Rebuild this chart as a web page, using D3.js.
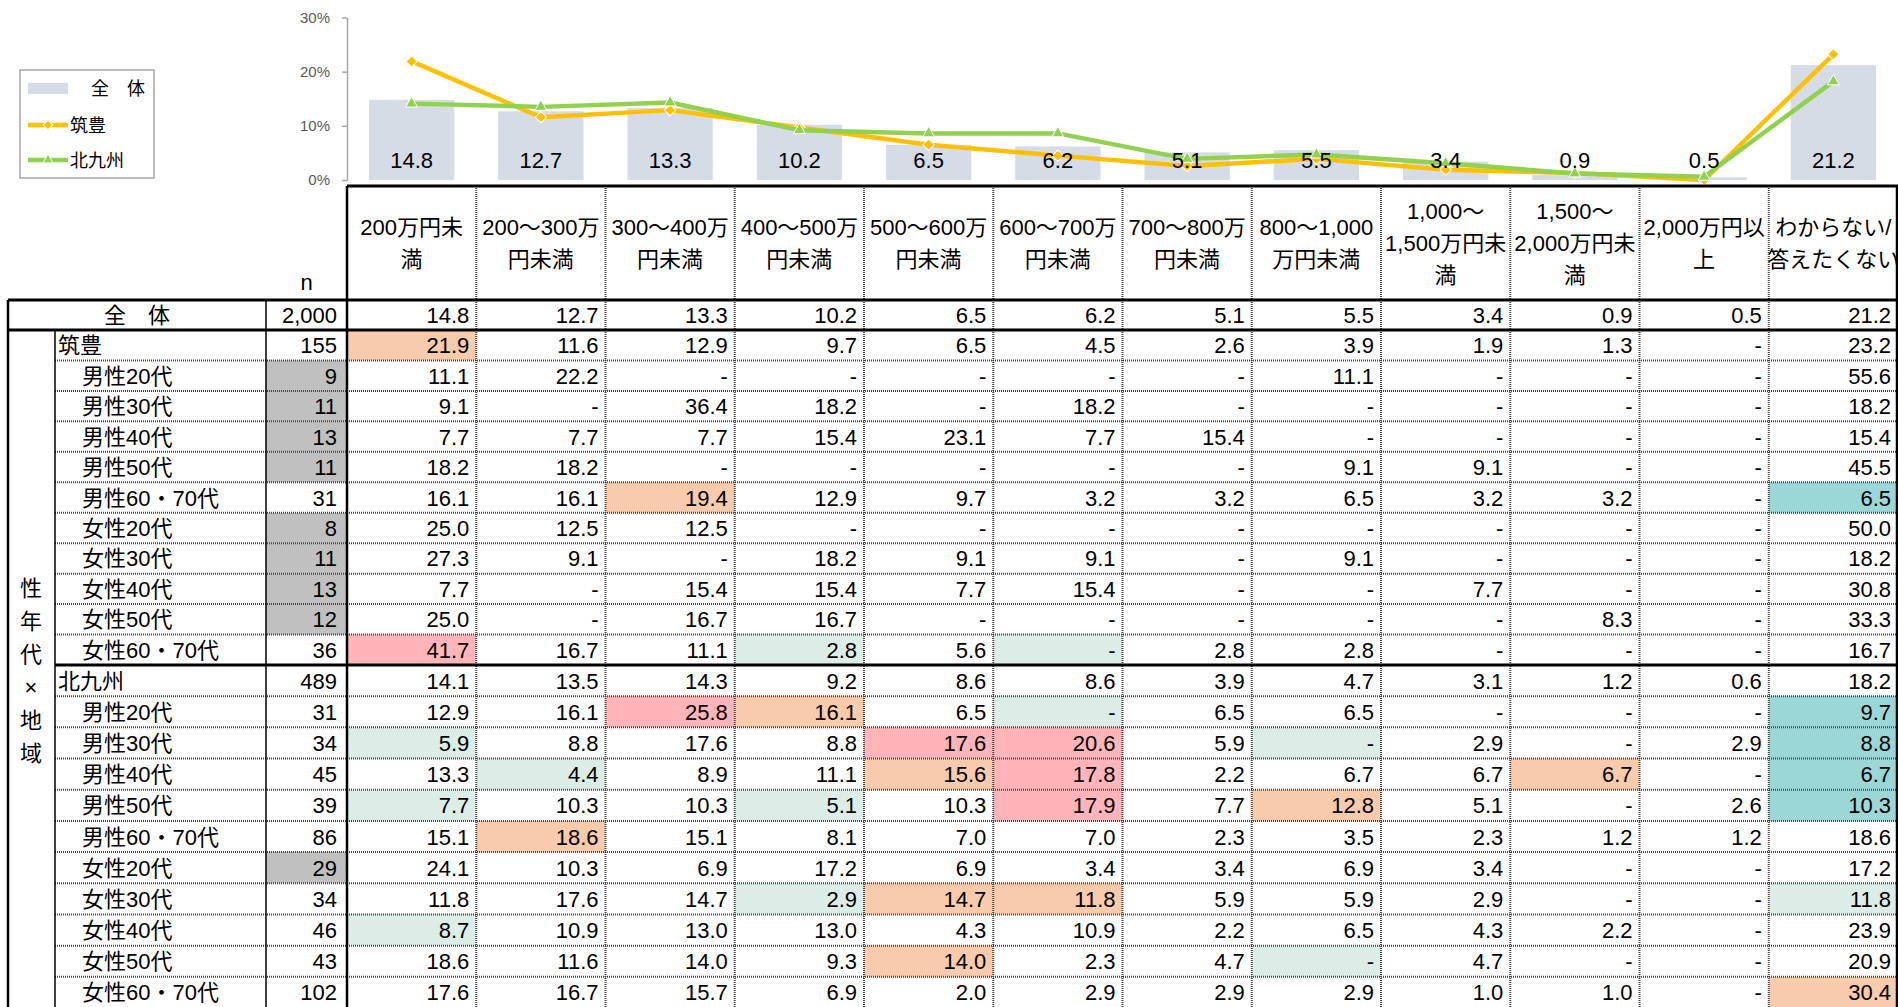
<!DOCTYPE html>
<html>
<head>
<meta charset="utf-8">
<script src="https://cdn.jsdelivr.net/npm/d3@7"></script>
<style>
  body { margin: 0; background: #fff; }
  svg text { font-family: "Liberation Sans", "Noto Sans CJK JP", sans-serif; }
</style>
</head>
<body>
<script>
// ---- data ----
var categories = ["200万円未満", "200～300万円未満", "300～400万円未満", "400～500万円未満",
  "500～600万円未満", "600～700万円未満", "700～800万円未満", "800～1,000万円未満",
  "1,000～1,500万円未満", "1,500～2,000万円未満", "2,000万円以上", "わからない/答えたくない"];
var headerLines = [["200万円未", "満"], ["200～300万", "円未満"], ["300～400万", "円未満"],
  ["400～500万", "円未満"], ["500～600万", "円未満"], ["600～700万", "円未満"],
  ["700～800万", "円未満"], ["800～1,000", "万円未満"], ["1,000～", "1,500万円未", "満"],
  ["1,500～", "2,000万円未", "満"], ["2,000万円以", "上"], ["わからない/", "答えたくない"]];

var totalN = 2000;
var totalValues = [14.8, 12.7, 13.3, 10.2, 6.5, 6.2, 5.1, 5.5, 3.4, 0.9, 0.5, 21.2];

var groupNames = ["筑豊", "北九州"];
var subLabels = ["男性20代", "男性30代", "男性40代", "男性50代", "男性60・70代",
  "女性20代", "女性30代", "女性40代", "女性50代", "女性60・70代"];

var chikuhoN = [155, 9, 11, 13, 11, 31, 8, 11, 13, 12, 36];
var chikuhoValues = [
  [21.9, 11.6, 12.9, 9.7, 6.5, 4.5, 2.6, 3.9, 1.9, 1.3, null, 23.2],
  [11.1, 22.2, null, null, null, null, null, 11.1, null, null, null, 55.6],
  [9.1, null, 36.4, 18.2, null, 18.2, null, null, null, null, null, 18.2],
  [7.7, 7.7, 7.7, 15.4, 23.1, 7.7, 15.4, null, null, null, null, 15.4],
  [18.2, 18.2, null, null, null, null, null, 9.1, 9.1, null, null, 45.5],
  [16.1, 16.1, 19.4, 12.9, 9.7, 3.2, 3.2, 6.5, 3.2, 3.2, null, 6.5],
  [25.0, 12.5, 12.5, null, null, null, null, null, null, null, null, 50.0],
  [27.3, 9.1, null, 18.2, 9.1, 9.1, null, 9.1, null, null, null, 18.2],
  [7.7, null, 15.4, 15.4, 7.7, 15.4, null, null, 7.7, null, null, 30.8],
  [25.0, null, 16.7, 16.7, null, null, null, null, null, 8.3, null, 33.3],
  [41.7, 16.7, 11.1, 2.8, 5.6, null, 2.8, 2.8, null, null, null, 16.7]
];
// o = orange, p = pink, t = light teal, T = teal
var chikuhoMarks = ["o...........", "............", "............", "............", "............",
  "..o........T", "............", "............", "............", "............", "p..t.t......"];

var kitaN = [489, 31, 34, 45, 39, 86, 29, 34, 46, 43, 102];
var kitaValues = [
  [14.1, 13.5, 14.3, 9.2, 8.6, 8.6, 3.9, 4.7, 3.1, 1.2, 0.6, 18.2],
  [12.9, 16.1, 25.8, 16.1, 6.5, null, 6.5, 6.5, null, null, null, 9.7],
  [5.9, 8.8, 17.6, 8.8, 17.6, 20.6, 5.9, null, 2.9, null, 2.9, 8.8],
  [13.3, 4.4, 8.9, 11.1, 15.6, 17.8, 2.2, 6.7, 6.7, 6.7, null, 6.7],
  [7.7, 10.3, 10.3, 5.1, 10.3, 17.9, 7.7, 12.8, 5.1, null, 2.6, 10.3],
  [15.1, 18.6, 15.1, 8.1, 7.0, 7.0, 2.3, 3.5, 2.3, 1.2, 1.2, 18.6],
  [24.1, 10.3, 6.9, 17.2, 6.9, 3.4, 3.4, 6.9, 3.4, null, null, 17.2],
  [11.8, 17.6, 14.7, 2.9, 14.7, 11.8, 5.9, 5.9, 2.9, null, null, 11.8],
  [8.7, 10.9, 13.0, 13.0, 4.3, 10.9, 2.2, 6.5, 4.3, 2.2, null, 23.9],
  [18.6, 11.6, 14.0, 9.3, 14.0, 2.3, 4.7, null, 4.7, null, null, 20.9],
  [17.6, 16.7, 15.7, 6.9, 2.0, 2.9, 2.9, 2.9, 1.0, 1.0, null, 30.4]
];
var kitaMarks = ["............", "..po.t.....T", "t...pp.t...T", ".t..op...o.T", "t..t.p.o...T",
  ".o..........", "............", "...too.....t", "t...........", "....o..t....", "...........o"];

var yTicks = [0, 10, 20, 30];
var sideLabel = ["性", "年", "代", "×", "地", "域"];

// ---- layout ----
var W = 1898, H = 1007;
var colors = { o: "#f8cbad", p: "#ffb5ba", t: "#dcede8", T: "#9bd7d7" };
var fmt = d3.format(".1f"), fmtN = d3.format(",");

var svg = d3.select("body").append("svg").attr("width", W).attr("height", H);

var xCol = d3.scaleBand().domain(categories).range([347, 1898]);
var xBar = d3.scaleBand().domain(categories).range([347, 1898]).paddingInner(0.34).paddingOuter(0.17);
var y = d3.scaleLinear().domain([0, 30]).range([180, 17.5]);
var cx = function(c) { return xCol(c) + xCol.bandwidth() / 2; };

// ---- chart ----
svg.append("g").selectAll("rect").data(totalValues).enter().append("rect")
  .attr("x", function(d, i) { return xBar(categories[i]); })
  .attr("y", function(d) { return y(d); })
  .attr("width", xBar.bandwidth())
  .attr("height", function(d) { return y(0) - y(d); })
  .attr("fill", "#d6dce5");

var axis = svg.append("g").attr("transform", "translate(347,0)")
  .call(d3.axisLeft(y).tickValues(yTicks).tickSize(5).tickSizeOuter(0).tickPadding(12)
    .tickFormat(function(d) { return d + "%"; }));
axis.select(".domain").attr("stroke", "#a6a6a6").attr("stroke-width", 1.5);
axis.selectAll(".tick line").attr("stroke", "#a6a6a6").attr("stroke-width", 1.5);
axis.selectAll(".tick text").attr("fill", "#595959").style("font-size", "15px")
  .style("font-family", "Liberation Sans");

var chikuhoLine = chikuhoValues[0].map(function(v) { return v === null ? 0 : v; });
var kitaLine = kitaValues[0].map(function(v) { return v === null ? 0 : v; });
var line = d3.line()
  .x(function(d, i) { return cx(categories[i]); })
  .y(function(d) { return y(d); });

var series = [
  { values: chikuhoLine, color: "#ffc000", symbol: d3.symbolSquare, size: 64, rot: 45 },
  { values: kitaLine, color: "#92d050", symbol: d3.symbolTriangle, size: 62, rot: 0 }
];
series.forEach(function(s) {
  svg.append("path").datum(s.values).attr("d", line)
    .attr("fill", "none").attr("stroke", s.color).attr("stroke-width", 4.5)
    .attr("stroke-linejoin", "round");
  svg.append("g").selectAll("path").data(s.values).enter().append("path")
    .attr("d", d3.symbol().type(s.symbol).size(s.size))
    .attr("transform", function(d, i) {
      return "translate(" + cx(categories[i]) + "," + y(d) + ") rotate(" + s.rot + ")";
    })
    .attr("fill", s.color).attr("stroke", "#fff").attr("stroke-width", 1);
});

// bar labels sit on top of the lines
svg.append("g").selectAll("text").data(totalValues).enter().append("text")
  .attr("x", function(d, i) { return cx(categories[i]); })
  .attr("y", y(0) - 12)
  .attr("text-anchor", "middle")
  .style("font-size", "22px")
  .text(function(d) { return fmt(d); });

// legend
var lg = svg.append("g");
lg.append("rect").attr("x", 20).attr("y", 70).attr("width", 134).attr("height", 108)
  .attr("fill", "#fff").attr("stroke", "#a6a6a6").attr("stroke-width", 1.5);
lg.append("rect").attr("x", 28).attr("y", 83).attr("width", 40).attr("height", 11).attr("fill", "#d6dce5");
lg.append("text").attr("x", 91).attr("y", 95).style("font-size", "18px").text("全　体");
var legendLines = [{ s: series[0], name: groupNames[0], ly: 125 }, { s: series[1], name: groupNames[1], ly: 160 }];
legendLines.forEach(function(l) {
  lg.append("line").attr("x1", 28).attr("x2", 68).attr("y1", l.ly).attr("y2", l.ly)
    .attr("stroke", l.s.color).attr("stroke-width", 4.5);
  lg.append("path").attr("d", d3.symbol().type(l.s.symbol).size(l.s.size * 0.7))
    .attr("transform", "translate(48," + l.ly + ") rotate(" + l.s.rot + ")")
    .attr("fill", l.s.color).attr("stroke", "#fff").attr("stroke-width", 1);
  lg.append("text").attr("x", 70).attr("y", l.ly + 7).style("font-size", "18px").text(l.name);
});

// ---- table ----
var tb = svg.append("g");
var headerTop = 186, headerBottom = 300, totalBottom = 330, groupSplit = 665, tableBottom = 1008;

// header texts
headerLines.forEach(function(lines, i) {
  var c = categories[i];
  lines.forEach(function(t, k) {
    tb.append("text").attr("x", cx(c))
      .attr("y", 243 + (k - (lines.length - 1) / 2) * 32 + 8)
      .attr("text-anchor", "middle").style("font-size", "22px").text(t);
  });
});
tb.append("text").attr("x", 306.5).attr("y", 290).attr("text-anchor", "middle")
  .style("font-size", "22px").text("n");

// rows
var rows = [{ label: "全　体", n: totalN, values: totalValues, marks: "............", top: headerBottom, h: totalBottom - headerBottom, kind: "total" }];
var g1 = d3.scaleBand().domain(d3.range(11)).range([totalBottom, groupSplit]);
var g2 = d3.scaleBand().domain(d3.range(11)).range([groupSplit, tableBottom]);
[[g1, chikuhoN, chikuhoValues, chikuhoMarks], [g2, kitaN, kitaValues, kitaMarks]].forEach(function(g, gi) {
  d3.range(11).forEach(function(r) {
    rows.push({
      label: r === 0 ? groupNames[gi] : subLabels[r - 1],
      n: g[1][r], values: g[2][r], marks: g[3][r],
      top: g[0](r), h: g[0].bandwidth(), kind: r === 0 ? "group" : "sub"
    });
  });
});

rows.forEach(function(row) {
  var mid = row.top + row.h / 2;
  if (row.n < 30) {
    tb.append("rect").attr("x", 266).attr("y", row.top).attr("width", 81).attr("height", row.h).attr("fill", "#c0c0c0");
  }
  row.values.forEach(function(v, i) {
    var m = row.marks[i];
    if (colors[m]) {
      tb.append("rect").attr("x", xCol(categories[i])).attr("y", row.top)
        .attr("width", xCol.bandwidth()).attr("height", row.h).attr("fill", colors[m]);
    }
    tb.append("text").attr("x", xCol(categories[i]) + xCol.bandwidth() - 7).attr("y", mid + 8)
      .attr("text-anchor", "end").style("font-size", "22px")
      .text(v === null ? "-" : fmt(v));
  });
  tb.append("text").attr("x", 337).attr("y", mid + 8).attr("text-anchor", "end")
    .style("font-size", "22px").text(fmtN(row.n));
  if (row.kind === "total") {
    tb.append("text").attr("x", 137).attr("y", mid + 8).attr("text-anchor", "middle")
      .style("font-size", "22px").text(row.label);
  } else {
    tb.append("text").attr("x", row.kind === "group" ? 58 : 82).attr("y", mid + 8)
      .style("font-size", "22px").text(row.label);
  }
});

// side label
sideLabel.forEach(function(t, i) {
  tb.append("text").attr("x", 31).attr("y", 670 + (i - 2.5) * 33 + 8)
    .attr("text-anchor", "middle").style("font-size", "22px").text(t);
});

// grid lines
var dotted = function(x1, y1, x2, y2) {
  tb.append("line").attr("x1", x1).attr("y1", y1).attr("x2", x2).attr("y2", y2)
    .attr("stroke", "#444").attr("stroke-width", 2).attr("stroke-dasharray", "1,1");
};
var solid = function(x1, y1, x2, y2, w) {
  tb.append("line").attr("x1", x1).attr("y1", y1).attr("x2", x2).attr("y2", y2)
    .attr("stroke", "#000").attr("stroke-width", w);
};
rows.forEach(function(row) {
  if (row.kind === "sub") dotted(55, row.top, W, row.top);
});
categories.slice(1).forEach(function(c) { dotted(xCol(c), headerTop, xCol(c), H); });
solid(347, headerTop, W, headerTop, 3);
solid(8, headerBottom, W, headerBottom, 3);
solid(8, totalBottom, W, totalBottom, 3);
solid(55, groupSplit, W, groupSplit, 3);
solid(8, headerBottom, 8, H, 2.5);
solid(55, totalBottom, 55, H, 1.5);
solid(266, headerBottom, 266, H, 1.5);
solid(347, headerTop, 347, H, 2.5);
solid(W - 1, headerTop, W - 1, H, 2.5);
</script>
</body>
</html>
